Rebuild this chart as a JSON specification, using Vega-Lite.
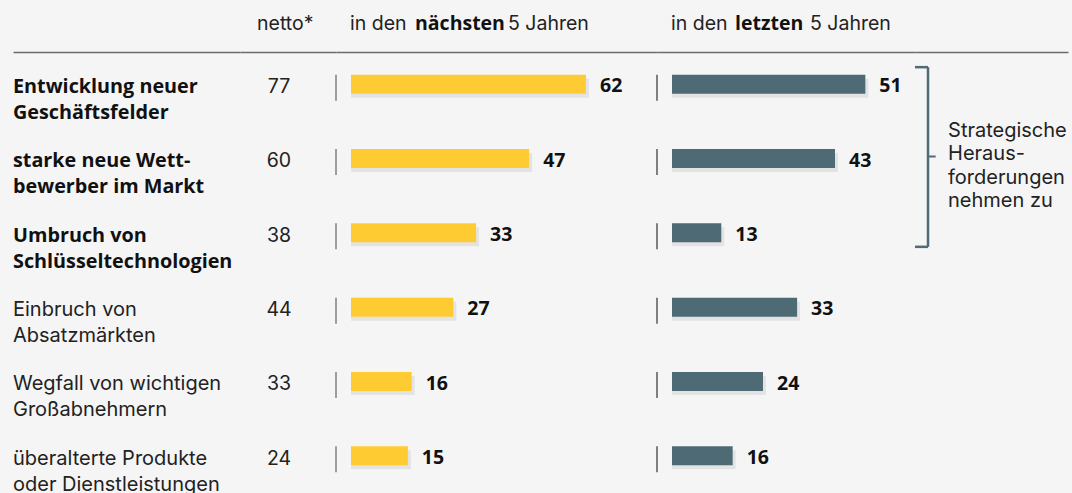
{
  "$schema": "https://vega.github.io/schema/vega-lite/v6.json",
  "background": "#f5f5f5",
  "padding": {"left": 13, "top": 0, "right": 4, "bottom": 0},
  "spacing": 0,
  "datasets": {
    "rows": [
      {"label": "Entwicklung neuer Geschäftsfelder", "lines": ["Entwicklung neuer", "Geschäftsfelder"], "netto": 77, "next": 62, "last": 51, "strategic": true},
      {"label": "starke neue Wettbewerber im Markt", "lines": ["starke neue Wett-", "bewerber im Markt"], "netto": 60, "next": 47, "last": 43, "strategic": true},
      {"label": "Umbruch von Schlüsseltechnologien", "lines": ["Umbruch von", "Schlüsseltechnologien"], "netto": 38, "next": 33, "last": 13, "strategic": true},
      {"label": "Einbruch von Absatzmärkten", "lines": ["Einbruch von", "Absatzmärkten"], "netto": 44, "next": 27, "last": 33, "strategic": false},
      {"label": "Wegfall von wichtigen Großabnehmern", "lines": ["Wegfall von wichtigen", "Großabnehmern"], "netto": 33, "next": 16, "last": 24, "strategic": false},
      {"label": "überalterte Produkte oder Dienstleistungen", "lines": ["überalterte Produkte", "oder Dienstleistungen"], "netto": 24, "next": 15, "last": 16, "strategic": false}
    ],
    "note": [
      {"from": "Entwicklung neuer Geschäftsfelder", "mid": "starke neue Wettbewerber im Markt", "to": "Umbruch von Schlüsseltechnologien", "note": ["Strategische", "Heraus-", "forderungen", "nehmen zu"]}
    ]
  },
  "vconcat": [
    {
      "bounds": "flush",
      "spacing": 0,
      "hconcat": [
        {"width": 227, "height": 47, "data": {"values": [{}]}, "mark": {"type": "text"}, "encoding": {"text": {"value": ""}}},
        {"width": 96, "height": 47, "data": {"values": [{}]},
         "mark": {"type": "text", "align": "left", "baseline": "alphabetic", "dy": 6.5, "fontSize": 19.5, "font": "Inter", "color": "#222"},
         "encoding": {"x": {"datum": 0.177, "scale": {"domain": [0, 1]}, "axis": null}, "text": {"value": "netto*"}}},
        {"width": 321, "height": 47, "data": {"values": [{}]},
         "encoding": {"x": {"datum": 0, "scale": {"domain": [-3.96, 80.74], "nice": false}, "axis": null}},
         "layer": [
           {"mark": {"type": "text", "align": "left", "baseline": "alphabetic", "dy": 6.5, "dx": -1, "fontSize": 19.5, "font": "Inter", "color": "#222"}, "encoding": {"text": {"value": "in den"}}},
           {"mark": {"type": "text", "align": "left", "baseline": "alphabetic", "dy": 6.5, "dx": 64, "fontSize": 19.5, "fontWeight": "bold", "color": "#111"}, "encoding": {"text": {"value": "nächsten"}}},
           {"mark": {"type": "text", "align": "left", "baseline": "alphabetic", "dy": 6.5, "dx": 157, "fontSize": 19.5, "font": "Inter", "color": "#222"}, "encoding": {"text": {"value": "5 Jahren"}}}
         ]},
        {"width": 258, "height": 47, "data": {"values": [{}]},
         "encoding": {"x": {"datum": 0, "scale": {"domain": [-3.96, 64.1], "nice": false}, "axis": null}},
         "layer": [
           {"mark": {"type": "text", "align": "left", "baseline": "alphabetic", "dy": 6.5, "dx": -1, "fontSize": 19.5, "font": "Inter", "color": "#222"}, "encoding": {"text": {"value": "in den"}}},
           {"mark": {"type": "text", "align": "left", "baseline": "alphabetic", "dy": 6.5, "dx": 63, "fontSize": 19.5, "fontWeight": "bold", "color": "#111"}, "encoding": {"text": {"value": "letzten"}}},
           {"mark": {"type": "text", "align": "left", "baseline": "alphabetic", "dy": 6.5, "dx": 138, "fontSize": 19.5, "font": "Inter", "color": "#222"}, "encoding": {"text": {"value": "5 Jahren"}}}
         ]},
        {"width": 153, "height": 47, "data": {"values": [{}]}, "mark": {"type": "text"}, "encoding": {"text": {"value": ""}}}
      ]
    },
    {
      "bounds": "flush",
      "spacing": 0,
      "hconcat": [
        {
          "width": 227, "height": 446,
          "data": {"name": "rows"},
          "encoding": {
            "x": {"datum": 0, "scale": {"domain": [0, 1]}, "axis": {"orient": "top", "title": null}},
            "y": {"field": "label", "type": "nominal", "axis": null, "scale": {"paddingInner": 0, "paddingOuter": 0, "domain": ["Entwicklung neuer Geschäftsfelder", "starke neue Wettbewerber im Markt", "Umbruch von Schlüsseltechnologien", "Einbruch von Absatzmärkten", "Wegfall von wichtigen Großabnehmern", "überalterte Produkte oder Dienstleistungen"]}},
            "text": {"field": "lines", "type": "nominal"}
          },
          "layer": [
            {"transform": [{"filter": "datum.strategic"}], "mark": {"type": "text", "align": "left", "baseline": "alphabetic", "dy": 8.8, "lineHeight": 26, "fontSize": 19.8, "fontWeight": "bold", "color": "#111"}},
            {"transform": [{"filter": "!datum.strategic"}], "mark": {"type": "text", "align": "left", "baseline": "alphabetic", "dy": 8.8, "lineHeight": 26, "fontSize": 20, "font": "Inter", "fontWeight": "normal", "color": "#222"}}
          ]
        },
        {
          "width": 96, "height": 446,
          "data": {"name": "rows"},
          "mark": {"type": "text", "align": "center", "baseline": "alphabetic", "dy": 8.8, "fontSize": 19.5, "font": "Inter", "color": "#222"},
          "encoding": {
            "x": {"datum": 0.406, "scale": {"domain": [0, 1]}, "axis": {"orient": "top", "title": null}},
            "y": {"field": "label", "type": "nominal", "axis": null, "scale": {"paddingInner": 0, "paddingOuter": 0, "domain": ["Entwicklung neuer Geschäftsfelder", "starke neue Wettbewerber im Markt", "Umbruch von Schlüsseltechnologien", "Einbruch von Absatzmärkten", "Wegfall von wichtigen Großabnehmern", "überalterte Produkte oder Dienstleistungen"]}},
            "text": {"field": "netto", "type": "quantitative"}
          }
        },
        {
          "width": 321, "height": 446,
          "data": {"name": "rows"},
          "encoding": {
            "x": {"field": "next", "type": "quantitative", "scale": {"domain": [-3.96, 80.74], "nice": false}, "axis": {"orient": "top", "title": null}},
            "y": {"field": "label", "type": "nominal", "axis": null, "scale": {"paddingInner": 0, "paddingOuter": 0, "domain": ["Entwicklung neuer Geschäftsfelder", "starke neue Wettbewerber im Markt", "Umbruch von Schlüsseltechnologien", "Einbruch von Absatzmärkten", "Wegfall von wichtigen Großabnehmern", "überalterte Produkte oder Dienstleistungen"]}}
          },
          "layer": [
            {"mark": {"type": "bar", "size": 19, "color": "#000", "opacity": 0.07, "xOffset": 3, "yOffset": 4}, "encoding": {"x2": {"datum": 0}}},
            {"mark": {"type": "bar", "size": 19, "color": "#ffcb33"}, "encoding": {"x2": {"datum": 0}}},
            {"mark": {"type": "text", "align": "left", "baseline": "alphabetic", "dx": 14, "dy": 8, "fontSize": 19.5, "fontWeight": "bold", "color": "#111"}, "encoding": {"text": {"field": "next", "type": "quantitative"}}},
            {"mark": {"type": "tick", "orient": "vertical", "size": 26, "thickness": 2, "color": "#777", "yOffset": 3.5}, "encoding": {"x": {"datum": -3.96}}}
          ]
        },
        {
          "width": 258, "height": 446,
          "data": {"name": "rows"},
          "encoding": {
            "x": {"field": "last", "type": "quantitative", "scale": {"domain": [-3.96, 64.1], "nice": false}, "axis": {"orient": "top", "title": null}},
            "y": {"field": "label", "type": "nominal", "axis": null, "scale": {"paddingInner": 0, "paddingOuter": 0, "domain": ["Entwicklung neuer Geschäftsfelder", "starke neue Wettbewerber im Markt", "Umbruch von Schlüsseltechnologien", "Einbruch von Absatzmärkten", "Wegfall von wichtigen Großabnehmern", "überalterte Produkte oder Dienstleistungen"]}}
          },
          "layer": [
            {"mark": {"type": "bar", "size": 19, "color": "#000", "opacity": 0.07, "xOffset": 3, "yOffset": 4}, "encoding": {"x2": {"datum": 0}}},
            {"mark": {"type": "bar", "size": 19, "color": "#4d6a75"}, "encoding": {"x2": {"datum": 0}}},
            {"mark": {"type": "text", "align": "left", "baseline": "alphabetic", "dx": 14, "dy": 8, "fontSize": 19.5, "fontWeight": "bold", "color": "#111"}, "encoding": {"text": {"field": "last", "type": "quantitative"}}},
            {"mark": {"type": "tick", "orient": "vertical", "size": 26, "thickness": 1.6, "color": "#222", "yOffset": 3.5}, "encoding": {"x": {"datum": -3.96}}}
          ]
        },
        {
          "width": 153, "height": 446,
          "data": {"name": "note"},
          "encoding": {
            "x": {"datum": 8.5, "type": "quantitative", "scale": {"domain": [0, 100]}, "axis": {"orient": "top", "title": null}}
          },
          "layer": [
            {"mark": {"type": "rule", "color": "#4e6b77", "strokeWidth": 2.5, "yOffset": -17, "y2Offset": 14},
             "encoding": {
               "y": {"field": "from", "type": "nominal", "axis": null, "scale": {"paddingInner": 0, "paddingOuter": 0, "domain": ["Entwicklung neuer Geschäftsfelder", "starke neue Wettbewerber im Markt", "Umbruch von Schlüsseltechnologien", "Einbruch von Absatzmärkten", "Wegfall von wichtigen Großabnehmern", "überalterte Produkte oder Dienstleistungen"]}},
               "y2": {"field": "to"}}},
            {"mark": {"type": "rule", "color": "#4e6b77", "strokeWidth": 2.5, "yOffset": -17},
             "encoding": {"x": {"datum": 0, "type": "quantitative"}, "x2": {"datum": 8.5}, "y": {"field": "from", "type": "nominal"}}},
            {"mark": {"type": "rule", "color": "#4e6b77", "strokeWidth": 2.5, "yOffset": 14},
             "encoding": {"x": {"datum": 0, "type": "quantitative"}, "x2": {"datum": 8.5}, "y": {"field": "to", "type": "nominal"}}},
            {"mark": {"type": "rule", "color": "#4e6b77", "strokeWidth": 2, "yOffset": -2},
             "encoding": {"x": {"datum": 8.5, "type": "quantitative"}, "x2": {"datum": 13.5}, "y": {"field": "mid", "type": "nominal"}}},
            {"mark": {"type": "text", "align": "left", "baseline": "alphabetic", "dy": -21.5, "lineHeight": 23.3, "fontSize": 20, "font": "Inter", "color": "#222"},
             "encoding": {"x": {"datum": 21.6, "type": "quantitative"}, "y": {"field": "mid", "type": "nominal"}, "text": {"field": "note", "type": "nominal"}}}
          ]
        }
      ]
    }
  ],
  "config": {
    "view": {"stroke": null},
    "font": "Open Sans",
    "text": {"font": "Open Sans"},
    "concat": {"spacing": 0},
    "axisX": {"domainColor": "#6b6b6b", "domainWidth": 1.5, "labels": false, "ticks": false, "grid": false, "offset": -5}
  }
}
